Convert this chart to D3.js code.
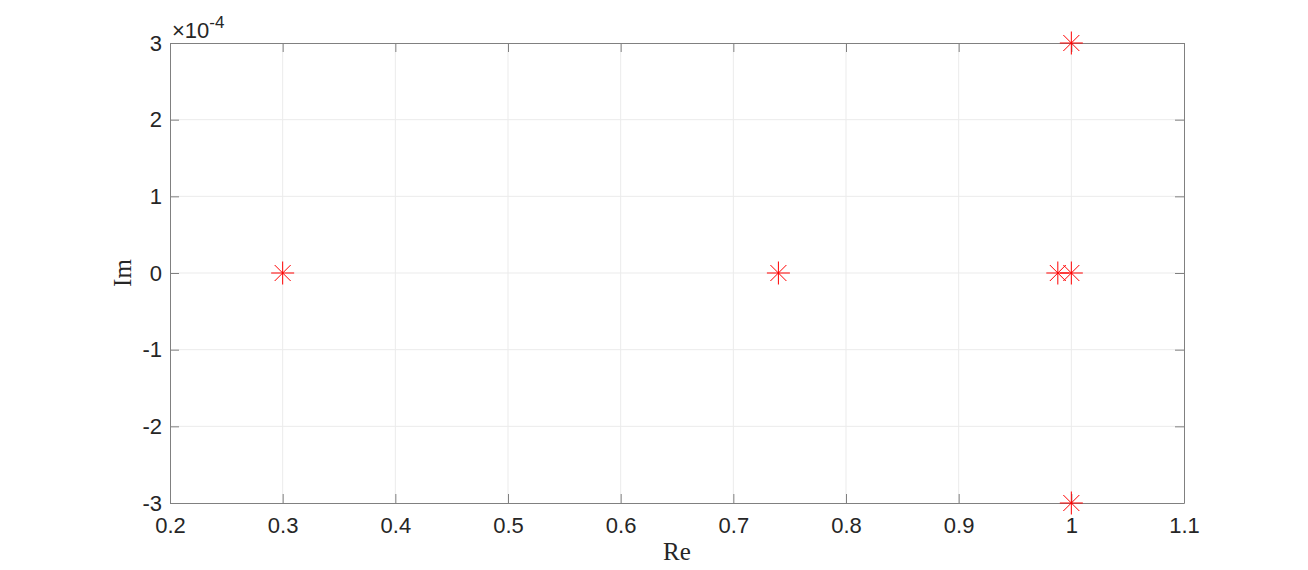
<!DOCTYPE html>
<html>
<head>
<meta charset="utf-8">
<script src="https://cdn.jsdelivr.net/npm/d3@7"></script>
<style>
  body { margin: 0; background: #fff; }
  text { fill: #262626; }
</style>
</head>
<body>
<script>
const width = 1308
const height = 570
const margin = {top: 43, right: 124, bottom: 67, left: 170}

// pole locations (real part, imaginary part x 1e-4)
const re = [0.3, 0.74, 0.988, 1.0, 1.0, 1.0]
const im = [0, 0, 0, 0, 3, -3]
const xTicks = [0.2, 0.3, 0.4, 0.5, 0.6, 0.7, 0.8, 0.9, 1, 1.1]
const yTicks = [-3, -2, -1, 0, 1, 2, 3]

const svg = d3.select('body').append('svg')
        .attr('width', width)
        .attr('height', height)

const xScale = d3.scaleLinear()
        .domain([0.2, 1.1])
        .range([margin.left, width - margin.right])

const yScale = d3.scaleLinear()
        .domain([-3, 3])
        .range([height - margin.bottom, margin.top])

const x0 = margin.left, x1 = width - margin.right
const y0 = height - margin.bottom, y1 = margin.top

// grid
svg.append('g').selectAll('line')
        .data(xTicks.slice(1, -1))
        .join('line')
        .attr('x1', d => xScale(d)).attr('x2', d => xScale(d))
        .attr('y1', y1).attr('y2', y0)
        .attr('stroke', '#ebebeb')
svg.append('g').selectAll('line')
        .data(yTicks.slice(1, -1))
        .join('line')
        .attr('y1', d => yScale(d)).attr('y2', d => yScale(d))
        .attr('x1', x0).attr('x2', x1)
        .attr('stroke', '#ebebeb')

// axes, ticks inside
const fmt = d => String(d)
const xAxis = d3.axisBottom(xScale).tickValues(xTicks).tickSizeInner(-9).tickSizeOuter(0)
        .tickPadding(14).tickFormat(fmt)
const xAxisTop = d3.axisTop(xScale).tickValues(xTicks).tickSizeInner(-9).tickSizeOuter(0).tickFormat('')
const yAxis = d3.axisLeft(yScale).tickValues(yTicks).tickSizeInner(-9).tickSizeOuter(0)
        .tickPadding(8).tickFormat(fmt)
const yAxisRight = d3.axisRight(yScale).tickValues(yTicks).tickSizeInner(-9).tickSizeOuter(0).tickFormat('')

const style = g => {
    g.attr('font-size', null).attr('font-family', null)
    g.selectAll('path').attr('stroke', '#808080').attr('stroke-width', 1)
    g.selectAll('line').attr('stroke', '#808080')
    g.selectAll('text').attr('fill', '#262626')
        .style('font-family', '"Liberation Sans", Arial, sans-serif').style('font-size', '22px')
}

svg.append('g').attr('transform', 'translate(0,' + y0 + ')').call(xAxis).call(style)
svg.append('g').attr('transform', 'translate(0,' + y1 + ')').call(xAxisTop).call(style)
svg.append('g').attr('transform', 'translate(' + x0 + ',0)').call(yAxis).call(style)
svg.append('g').attr('transform', 'translate(' + x1 + ',0)').call(yAxisRight).call(style)

// exponent
const expo = svg.append('text')
        .attr('x', x0 + 2)
        .attr('y', 38)
        .style('font-family', '"Liberation Sans", Arial, sans-serif')
        .style('font-size', '22px')
expo.append('tspan').text('\u00d710')
expo.append('tspan').attr('dy', -10).style('font-size', '17px').text('-4')

// axis labels
svg.append('text')
        .attr('x', (x0 + x1) / 2)
        .attr('y', 560)
        .attr('text-anchor', 'middle')
        .style('font-family', '"Liberation Serif", "Times New Roman", serif')
        .style('font-size', '25px')
        .text('Re')
svg.append('text')
        .attr('transform', 'translate(131,' + (y0 + y1) / 2 + ') rotate(-90)')
        .attr('text-anchor', 'middle')
        .style('font-family', '"Liberation Serif", "Times New Roman", serif')
        .style('font-size', '25px')
        .text('Im')

// asterisk markers
const data = re.map((d, i) => ({re: d, im: im[i]}))
const s = 11.5, sd = 8
const star = `M${-s},0L${s},0M0,${-s}L0,${s}M${-sd},${-sd}L${sd},${sd}M${-sd},${sd}L${sd},${-sd}`
svg.append('g').selectAll('path')
        .data(data)
        .join('path')
        .attr('transform', d => 'translate(' + xScale(d.re) + ',' + yScale(d.im) + ')')
        .attr('d', star)
        .attr('fill', 'none')
        .attr('stroke', '#ff0000')
        .attr('stroke-width', 1)
</script>
</body>
</html>
